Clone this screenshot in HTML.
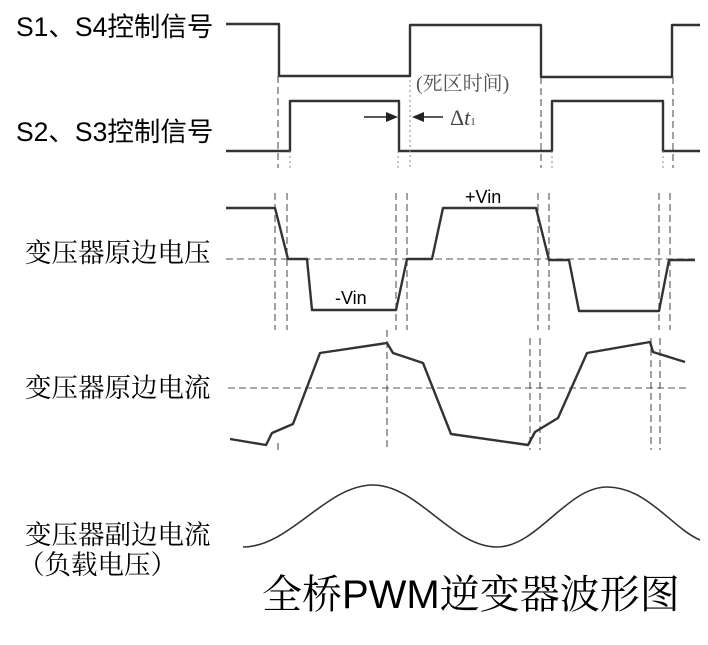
<!DOCTYPE html>
<html><head><meta charset="utf-8"><style>
html,body{margin:0;padding:0;background:#fff;}
svg{display:block;}
.s{font-family:"Liberation Sans","Noto Sans CJK SC",sans-serif;font-size:26.5px;fill:#000;}
.c{font-family:"Liberation Serif","Noto Serif CJK SC",serif;font-size:26.5px;fill:#000;}
.w{fill:none;stroke:#333;stroke-width:2.4;stroke-linejoin:round;}
.d{fill:none;stroke:#555;stroke-width:1.1;stroke-dasharray:7,4;}
.dt{fill:none;stroke:#888;stroke-width:1;stroke-dasharray:2,3;}
</style></head><body>
<svg width="708" height="645" viewBox="0 0 708 645" xmlns="http://www.w3.org/2000/svg">
<text class="s" x="16" y="36">S1、S4控制信号</text>
<text class="s" x="16" y="141">S2、S3控制信号</text>
<text class="c" x="25" y="262">变压器原边电压</text>
<text class="c" x="25" y="397">变压器原边电流</text>
<text class="c" x="25" y="544">变压器副边电流</text>
<text class="c" x="18" y="574">（负载电压）</text>
<text x="262" y="608" style="font-family:'Liberation Serif','Noto Serif CJK SC',serif;font-size:40px;">全桥<tspan style="font-family:'Liberation Sans',sans-serif;">PWM</tspan>逆变器波形图</text>

<polyline class="w" points="226,24 279,24 279,76 410,76 410,25 541,25 541,77 672,77 672,25 700,25"/>
<polyline class="w" points="226,151 290,151 290,101 399,101 399,151 552,151 552,101 663,101 663,151 700,151"/>
<path class="d" d="M278,76V168 M541,77V168 M673,77V168"/>
<path class="dt" d="M290,151V168 M398,151V168 M410,80V168 M552,151V168 M663,151V168"/>
<text x="416" y="90" style="font-family:'Liberation Serif','Noto Serif CJK SC',serif;font-size:20px;fill:#555;">(死区时间)</text>
<path d="M364,117H390" stroke="#222" stroke-width="1.5"/><polygon points="398,117 386,112 386,122" fill="#222"/>
<path d="M420,117H443" stroke="#222" stroke-width="1.5"/><polygon points="412,117 424,112 424,122" fill="#222"/>
<text x="450" y="125" style="font-family:'Liberation Serif',serif;font-size:22px;fill:#444;">Δ<tspan font-style="italic">t</tspan><tspan font-size="11">1</tspan></text>

<path class="d" d="M226,259H695"/>
<path class="d" d="M275,193V330 M287,193V330 M396,193V330 M407,193V330 M538,193V330 M549,193V330 M659,193V330 M670,193V330"/>
<polyline class="w" points="226,208 275,208 288,259 307,259 312,310 396,310 407,259 432,259 443,208 536,208 549,260 569,260 579,311 659,311 669,260 695,260"/>
<text x="335" y="304" style="font-family:'Liberation Sans',sans-serif;font-size:18px;">-Vin</text>
<text x="465" y="203" style="font-family:'Liberation Sans',sans-serif;font-size:18px;">+Vin</text>

<path class="d" d="M228,388H690"/>
<path class="d" d="M278,443V450 M387,330V450 M530,338V450 M540,338V450 M651,338V450 M660,338V450"/>
<polyline class="w" points="230,439 266,445 272,433 293,424 320,353 387,343 393,353 423,363 451,434 528,445 535,432 558,418 587,353 650,342 653,352 685,362"/>

<path fill="none" stroke="#333" stroke-width="1.6" d="M243,547 C290,547 326,485 373,485 C418,485 452,547 497,547 C537,547 567,487 607,487 C647,487 672,528 700,540"/>
</svg>
</body></html>
